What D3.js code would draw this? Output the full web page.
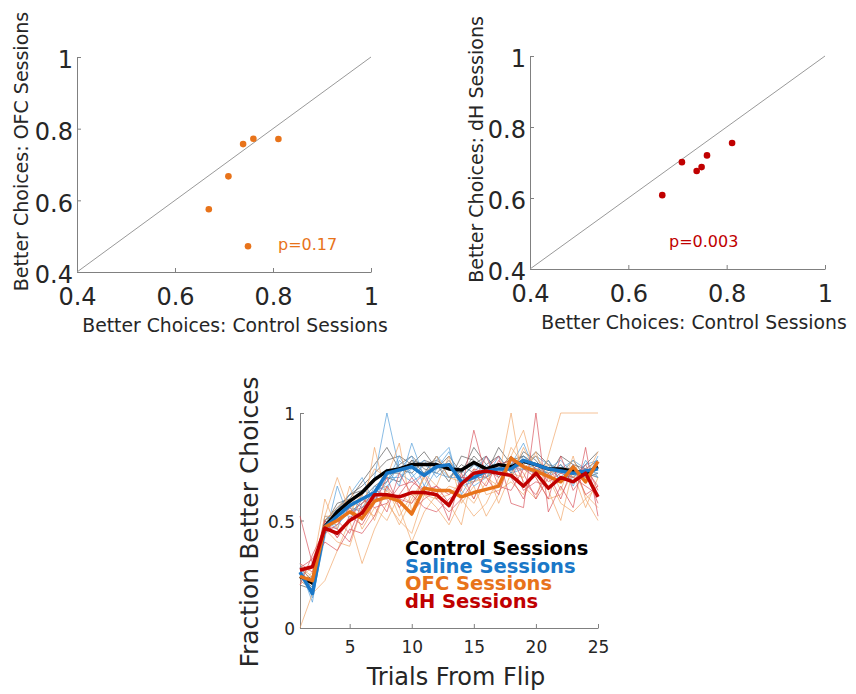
<!DOCTYPE html>
<html>
<head>
<meta charset="utf-8">
<script src="https://cdn.jsdelivr.net/npm/d3@7"></script>
<style>
  body { margin: 0; background: #fff; }
  svg { display: block; font-family: "DejaVu Sans", Verdana, sans-serif; }
</style>
</head>
<body>
<svg id="fig" width="856" height="694"></svg>
<script>
// session means: control vs OFC / dH (one point per animal)
const controlMeans = [0.669, 0.709, 0.739, 0.749, 0.760, 0.811];
const ofcMeans     = [0.575, 0.667, 0.757, 0.472, 0.772, 0.771];
const dhMeans      = [0.608, 0.701, 0.676, 0.687, 0.720, 0.755];
const scatterTicks = [0.4, 0.6, 0.8, 1];

// learning curves, trials 1..25 after the flip
const trials = d3.range(1, 26);
const controlCurve = [0.24,0.21,0.47,0.54,0.59,0.63,0.69,0.73,0.74,0.76,0.76,0.76,0.74,0.735,0.77,0.74,0.76,0.75,0.775,0.76,0.74,0.74,0.73,0.72,0.75];
const salineCurve  = [0.26,0.16,0.47,0.52,0.57,0.60,0.63,0.72,0.735,0.75,0.71,0.75,0.76,0.68,0.70,0.73,0.74,0.74,0.78,0.76,0.74,0.73,0.72,0.73,0.74];
const ofcCurve     = [0.24,0.22,0.47,0.50,0.54,0.51,0.59,0.61,0.59,0.53,0.65,0.64,0.64,0.61,0.63,0.645,0.66,0.79,0.75,0.73,0.705,0.68,0.75,0.68,0.775];
const dhCurve      = [0.27,0.285,0.465,0.44,0.50,0.535,0.62,0.62,0.61,0.63,0.63,0.62,0.57,0.67,0.72,0.73,0.72,0.71,0.66,0.72,0.65,0.70,0.68,0.72,0.61];

// individual sessions (thin lines)
const controlSessions = [
  [0.20,0.18,0.50,0.55,0.62,0.66,0.72,0.78,0.80,0.76,0.82,0.74,0.80,0.72,0.84,0.76,0.80,0.72,0.82,0.78,0.70,0.80,0.76,0.74,0.78],
  [0.28,0.22,0.44,0.52,0.56,0.60,0.66,0.70,0.68,0.78,0.72,0.80,0.70,0.76,0.72,0.70,0.74,0.80,0.74,0.72,0.78,0.68,0.72,0.70,0.74],
  [0.22,0.24,0.48,0.58,0.60,0.68,0.76,0.84,0.74,0.72,0.78,0.76,0.68,0.80,0.78,0.72,0.84,0.76,0.80,0.74,0.72,0.76,0.70,0.76,0.82],
  [0.26,0.20,0.46,0.50,0.54,0.58,0.64,0.68,0.76,0.80,0.74,0.72,0.78,0.70,0.76,0.80,0.72,0.74,0.76,0.82,0.76,0.74,0.68,0.72,0.70],
  [0.24,0.19,0.50,0.56,0.62,0.64,0.70,0.72,0.72,0.78,0.76,0.78,0.74,0.72,0.80,0.74,0.76,0.78,0.80,0.76,0.74,0.72,0.78,0.70,0.72]
];
const salineSessions = [
  [0.30,0.14,0.42,0.66,0.50,0.62,0.70,1.00,0.74,0.80,0.66,0.78,0.84,0.62,0.72,0.80,0.70,0.76,0.86,0.72,0.78,0.70,0.76,0.68,0.80],
  [0.22,0.18,0.50,0.46,0.60,0.56,0.60,0.68,0.80,0.70,0.76,0.72,0.70,0.74,0.66,0.70,0.80,0.72,0.74,0.80,0.70,0.76,0.66,0.78,0.70],
  [0.26,0.16,0.44,0.54,0.62,0.70,0.58,0.74,0.66,0.86,0.70,0.80,0.74,0.70,0.76,0.72,0.74,0.70,0.80,0.76,0.72,0.74,0.78,0.74,0.72],
  [0.24,0.20,0.52,0.50,0.56,0.54,0.66,0.64,0.78,0.72,0.64,0.74,0.82,0.66,0.68,0.76,0.72,0.78,0.76,0.80,0.76,0.68,0.70,0.76,0.78],
  [0.28,0.12,0.46,0.56,0.58,0.64,0.62,0.70,0.70,0.74,0.78,0.70,0.76,0.68,0.70,0.70,0.76,0.74,0.78,0.74,0.74,0.78,0.72,0.70,0.74],
  [0.25,0.17,0.48,0.48,0.54,0.56,0.64,0.66,0.72,0.68,0.72,0.76,0.70,0.70,0.68,0.72,0.72,0.74,0.74,0.76,0.74,0.72,0.70,0.74,0.70]
];
const ofcSessions = [
  [0.00,0.16,0.22,0.36,0.50,0.30,0.46,0.58,0.50,0.44,0.62,0.56,0.48,0.60,0.52,0.58,0.70,1.00,0.66,0.60,0.80,1.00,1.00,1.00,1.00],
  [0.30,0.20,0.52,0.70,0.54,0.62,0.74,0.70,0.86,0.54,0.72,0.66,0.80,0.58,0.66,0.52,0.62,0.80,0.92,0.70,0.60,0.62,0.72,0.56,0.70],
  [0.24,0.28,0.60,0.46,0.66,0.50,0.84,0.60,0.48,0.60,0.70,0.80,0.70,0.68,0.60,0.74,0.58,0.72,0.70,0.82,0.64,0.50,0.74,0.62,0.56],
  [0.20,0.26,0.46,0.40,0.38,0.56,0.52,0.64,0.56,0.40,0.54,0.62,0.58,0.48,0.74,0.62,0.64,0.68,0.62,0.74,0.70,0.58,0.54,0.60,0.66],
  [0.22,0.18,0.50,0.56,0.60,0.46,0.56,0.50,0.62,0.58,0.70,0.60,0.66,0.64,0.58,0.68,0.76,0.70,0.84,0.72,0.76,0.64,0.80,0.60,0.50],
  [0.28,0.24,0.52,0.52,0.56,0.62,0.50,0.66,0.52,0.62,0.62,0.60,0.62,0.68,0.68,0.70,0.66,0.84,0.76,0.80,0.72,0.74,0.70,0.70,0.82]
];
const dhSessions = [
  [0.52,0.30,0.40,0.36,0.46,0.44,0.52,0.66,0.58,0.54,0.60,0.64,0.50,0.72,0.60,0.74,0.80,0.58,0.56,1.00,0.54,0.66,0.56,0.84,0.52],
  [0.20,0.34,0.46,0.50,0.44,0.58,0.62,0.54,0.72,0.62,0.56,0.54,0.60,0.64,0.92,0.70,0.62,0.80,0.68,0.62,0.72,0.60,0.76,0.62,0.66],
  [0.30,0.26,0.50,0.42,0.52,0.48,0.58,0.70,0.56,0.66,0.72,0.60,0.54,0.60,0.68,0.80,0.66,0.64,0.74,0.70,0.60,0.80,0.64,0.72,0.58],
  [0.24,0.22,0.48,0.46,0.40,0.56,0.60,0.60,0.62,0.70,0.62,0.66,0.58,0.68,0.72,0.66,0.78,0.70,0.60,0.76,0.68,0.72,0.70,0.66,0.62],
  [0.28,0.32,0.44,0.48,0.56,0.50,0.64,0.62,0.60,0.58,0.66,0.62,0.56,0.70,0.70,0.74,0.70,0.76,0.64,0.68,0.66,0.70,0.68,0.76,0.64],
  [0.26,0.28,0.50,0.42,0.50,0.60,0.56,0.58,0.66,0.68,0.64,0.66,0.62,0.66,0.74,0.72,0.76,0.78,0.72,0.60,0.70,0.74,0.72,0.74,0.66]
];
const curveTicksX = [5, 10, 15, 20, 25];
const curveTicksY = [0, 0.5, 1];

const groups = [
  { name: "Control Sessions", mean: controlCurve, sessions: controlSessions, color: "#000000", thin: "#555555" },
  { name: "Saline Sessions",  mean: salineCurve,  sessions: salineSessions,  color: "#1a78c8", thin: "#4f9bd8" },
  { name: "OFC Sessions",     mean: ofcCurve,     sessions: ofcSessions,     color: "#e8731a", thin: "#f0a466" },
  { name: "dH Sessions",      mean: dhCurve,      sessions: dhSessions,      color: "#c00000", thin: "#d8505a" }
];

const svg = d3.select("#fig");
const axisColor = "#808080";
const textColor = "#262626";

function styleAxis(g) {
  g.select(".domain").attr("stroke", axisColor);
  g.selectAll(".tick line").attr("stroke", axisColor);
  g.selectAll(".tick text").attr("fill", textColor).attr("font-family", "DejaVu Sans, sans-serif");
}

function scatter(opts) {
  const { left, top, width, height, ys, color, yLabel, pText, pX, pY, yLabelX, xLabelX } = opts;
  const x = d3.scaleLinear().domain([0.4, 1]).range([left, left + width]);
  const y = d3.scaleLinear().domain([0.4, 1]).range([top + height, top]);
  const g = svg.append("g");

  g.append("g")
    .attr("transform", `translate(0,${top + height})`)
    .call(d3.axisBottom(x).tickValues(scatterTicks).tickSize(-4).tickSizeOuter(0).tickPadding(8).tickFormat(d3.format("")))
    .call(styleAxis)
    .call(a => a.selectAll(".tick text").attr("font-size", 24).attr("dy", "1.05em"));

  g.append("g")
    .attr("transform", `translate(${left},0)`)
    .call(d3.axisLeft(y).tickValues(scatterTicks).tickSize(-4).tickSizeOuter(0).tickPadding(4).tickFormat(d3.format("")))
    .call(styleAxis)
    .call(a => a.selectAll(".tick text").attr("font-size", 24).attr("dy", "0.45em"));

  g.append("line")
    .attr("x1", x(0.4)).attr("y1", y(0.4))
    .attr("x2", x(1)).attr("y2", y(1))
    .attr("stroke", "#999").attr("stroke-width", 1);

  g.selectAll("circle")
    .data(controlMeans.map((c, i) => [c, ys[i]]))
    .join("circle")
    .attr("cx", d => x(d[0]))
    .attr("cy", d => y(d[1]))
    .attr("r", 3.3)
    .attr("fill", color);

  g.append("text")
    .attr("x", pX).attr("y", pY)
    .attr("font-size", 16)
    .attr("fill", color)
    .text(pText);

  g.append("text")
    .attr("x", xLabelX)
    .attr("y", top + height + 60)
    .attr("text-anchor", "middle")
    .attr("font-size", 18.8)
    .attr("fill", textColor)
    .text("Better Choices: Control Sessions");

  g.append("text")
    .attr("transform", `translate(${yLabelX},${top + height / 2 - 13}) rotate(-90)`)
    .attr("text-anchor", "middle")
    .attr("font-size", 19)
    .attr("fill", textColor)
    .text(yLabel);
}

scatter({ left: 77, top: 57, width: 294, height: 215, ys: ofcMeans, color: "#e8731a",
  yLabel: "Better Choices: OFC Sessions", pText: "p=0.17", pX: 278, pY: 250, yLabelX: 28, xLabelX: 235 });
scatter({ left: 530, top: 56, width: 295, height: 213, ys: dhMeans, color: "#c00000",
  yLabel: "Better Choices: dH Sessions", pText: "p=0.003", pX: 669, pY: 247, yLabelX: 483, xLabelX: 694 });

// learning-curve panel
const cx = d3.scaleLinear().domain([1, 25]).range([300, 598]);
const cy = d3.scaleLinear().domain([0, 1]).range([628, 413]);
const curve = svg.append("g");

curve.append("g")
  .attr("transform", "translate(0,628)")
  .call(d3.axisBottom(cx).tickValues(curveTicksX).tickSize(-4).tickSizeOuter(0).tickPadding(9))
  .call(styleAxis)
  .call(a => a.selectAll(".tick text").attr("font-size", 17).attr("dy", "0.95em"));

curve.append("g")
  .attr("transform", "translate(300,0)")
  .call(d3.axisLeft(cy).tickValues(curveTicksY).tickSize(-4).tickSizeOuter(0).tickPadding(5).tickFormat(d3.format("")))
  .call(styleAxis)
  .call(a => a.selectAll(".tick text").attr("font-size", 17).attr("dy", "0.4em"));

const line = d3.line().x((d, i) => cx(trials[i])).y(d => cy(d));

groups.forEach(gr => {
  curve.append("g").selectAll("path")
    .data(gr.sessions)
    .join("path")
    .attr("d", line)
    .attr("fill", "none")
    .attr("stroke", gr.thin)
    .attr("stroke-opacity", 0.75)
    .attr("stroke-width", 0.9);
});

groups.forEach(gr => {
  curve.append("path")
    .attr("d", line(gr.mean))
    .attr("fill", "none")
    .attr("stroke", gr.color)
    .attr("stroke-width", 3.5)
    .attr("stroke-linejoin", "round");
});

curve.selectAll(".legend")
  .data(groups)
  .join("text")
  .attr("class", "legend")
  .attr("x", 405)
  .attr("y", (d, i) => 555 + i * 17.6)
  .attr("font-size", 19.5)
  .attr("font-weight", "bold")
  .attr("fill", d => d.color)
  .text(d => d.name);

curve.append("text")
  .attr("x", 456).attr("y", 685)
  .attr("text-anchor", "middle")
  .attr("font-size", 24)
  .attr("fill", textColor)
  .text("Trials From Flip");

curve.append("text")
  .attr("transform", "translate(258,522) rotate(-90)")
  .attr("text-anchor", "middle")
  .attr("font-size", 25)
  .attr("fill", textColor)
  .text("Fraction Better Choices");
</script>
</body>
</html>
